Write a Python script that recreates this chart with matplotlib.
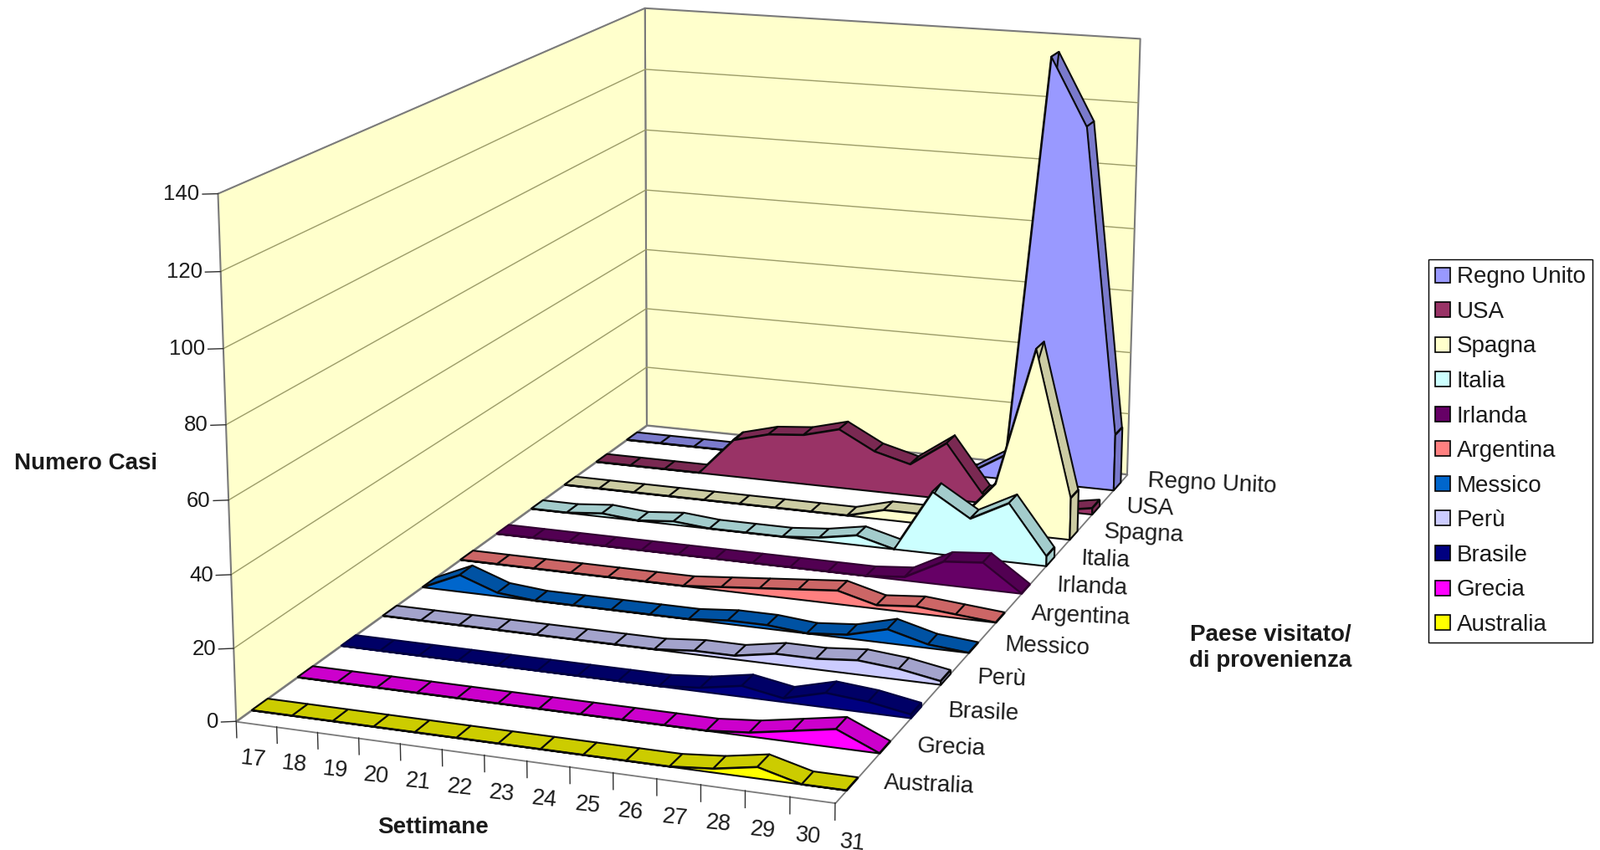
#!/usr/bin/env python3
# Grafico ad aree 3D: casi per settimana e paese visitato/di provenienza
import numpy as np
import matplotlib
matplotlib.use('Agg')
import matplotlib.pyplot as plt
from matplotlib.patches import Patch
from mpl_toolkits.mplot3d import proj3d
from mpl_toolkits.mplot3d.art3d import Poly3DCollection, Line3DCollection

plt.rcParams['font.family'] = ['Liberation Sans', 'DejaVu Sans']

settimane = list(range(17, 32))
paesi = ['Australia', 'Grecia', 'Brasile', 'Perù', 'Messico', 'Argentina',
         'Irlanda', 'Italia', 'Spagna', 'USA', 'Regno Unito']
z_ticks = [0, 20, 40, 60, 80, 100, 120, 140]

# valori (settimane 17-31)
australia = [0, 0, 0, 0, 0, 0, 0, 0, 0, 0, 0, 1, 3, 0, 0]
grecia = [0, 0, 0, 0, 0, 0, 0, 0, 0, 0, 0, 1, 3, 5, 0]
brasile = [0, 0, 0, 0, 0, 0, 0, 0, 0, 1, 3, 1, 4, 3, 1]
peru = [0, 0, 0, 0, 0, 0, 0, 0, 1, 1, 3, 3, 4, 3, 1]
messico = [0, 5, 1, 0, 0, 0, 0, 0, 1, 1, 0, 1, 4, 1, 0]
argentina = [0, 0, 0, 0, 0, 0, 0, 1, 2, 3, 4, 1, 2, 1, 0]
irlanda = [0, 0, 0, 0, 0, 0, 0, 0, 0, 0, 0, 1, 7, 8, 0]
italia = [0, 0, 1, 0, 1, 0, 0, 0, 1, 3, 0, 19, 12, 18, 3]
spagna = [0, 0, 0, 0, 0, 0, 0, 0, 0, 3, 3, 2, 15, 58, 13]
usa = [0, 0, 0, 0, 12, 15, 16, 19, 13, 10, 18, 3, 1, 0, 2]
regno_unito = [0, 0, 0, 0, 0, 0, 0, 0, 0, 0, 1, 8, 136, 115, 18]

serie = [australia, grecia, brasile, peru, messico, argentina, irlanda,
         italia, spagna, usa, regno_unito]
col_fronte = ['#FFFF00', '#FF00FF', '#000080', '#CCCCFF', '#0066CC', '#FF8080',
              '#660066', '#CCFFFF', '#FFFFCC', '#993366', '#9999FF']
col_sopra = ['#CCCC00', '#CC00CC', '#000066', '#A3A3CC', '#0052A3', '#CC6666',
             '#520052', '#A3CCCC', '#CCCCA3', '#7A2952', '#7A7ACC']
col_bordo = ['#0A0A0A', '#0A0A0A', '#000040', '#0A0A0A', '#0A0A0A', '#0A0A0A',
             '#300030', '#0A0A0A', '#0A0A0A', '#0A0A0A', '#0A0A0A']

fig = plt.figure(figsize=(19.12, 10.16), dpi=100)
h_ax = 1912 / 1016
ax = fig.add_axes([0, (1 - h_ax) / 2, 1, h_ax], projection='3d', computed_zorder=False)
ax.set_axis_off()

n_x = len(settimane) - 1
n_y = len(paesi)
z_max = z_ticks[-1]

# angoli della scatola nel riferimento (pixel) per ricavare la prospettiva
scala = 1912 / 1568
angoli_3d = [(0, 0, 0), (n_x, 0, 0), (0, n_y, 0), (n_x, n_y, 0),
             (0, 0, z_max), (0, n_y, z_max), (n_x, n_y, z_max)]
angoli_px = [(232, 707), (818.5, 787), (633, 417), (1105, 465),
             (213, 190), (633, 8), (1117, 38)]

righe = []
for (X, Y, Z), (u, v) in zip(angoli_3d, angoli_px):
    u, v = u * scala, 1016 - v * scala
    righe.append([X, Y, Z, 1, 0, 0, 0, 0, -u * X, -u * Y, -u * Z, -u])
    righe.append([0, 0, 0, 0, X, Y, Z, 1, -v * X, -v * Y, -v * Z, -v])
P = np.linalg.svd(np.array(righe, dtype=float))[2][-1].reshape(3, 4)
P = P / P[2, 3]

# da pixel a coordinate 2D dell'asse 3D
ax.apply_aspect()
inv = ax.transData.inverted()
o = inv.transform((0, 0))
ex = inv.transform((1, 0)) - o
ey = inv.transform((0, 1)) - o
M = np.array([
    ex[0] * P[0] + o[0] * P[2],
    ey[1] * P[1] + o[1] * P[2],
    [0, 1e-3, 0, 0],
    P[2],
])
ax.get_proj = lambda: M


def testo_3d(x, y, z, s, **kw):
    # testo normale posizionato con la proiezione dell'asse
    xp, yp, _ = proj3d.proj_transform(x, y, z, M)
    ax.text2D(xp, yp, s, transform=ax.transData, **kw)


# pareti e pavimento
bordo = '#7A7A7A'
griglia = '#9C9C68'
pareti = [
    [(0, 0, 0), (0, n_y, 0), (0, n_y, z_max), (0, 0, z_max)],
    [(0, n_y, 0), (n_x, n_y, 0), (n_x, n_y, z_max), (0, n_y, z_max)],
]
ax.add_collection3d(Poly3DCollection(pareti, facecolors='#FFFFCC', edgecolors=bordo,
                                     linewidths=1.5, zorder=1))
pavimento = [[(0, 0, 0), (n_x, 0, 0), (n_x, n_y, 0), (0, n_y, 0)]]
ax.add_collection3d(Poly3DCollection(pavimento, facecolors='white', edgecolors=bordo,
                                     linewidths=1.3, zorder=2))

segmenti = []
for t in z_ticks[1:-1]:
    segmenti.append([(0, 0, t), (0, n_y, t)])
    segmenti.append([(0, n_y, t), (n_x, n_y, t)])
ax.add_collection3d(Line3DCollection(segmenti, colors=griglia, linewidths=1.0, zorder=3))
z_ord = 4

# serie, dalla piu' lontana alla piu' vicina
for i in range(n_y - 1, -1, -1):
    val = serie[i]
    y0, y1 = i + 0.33, i + 0.67
    xs = list(range(n_x + 1))
    sopra = [[(k, y0, val[k]), (k + 1, y0, val[k + 1]),
              (k + 1, y1, val[k + 1]), (k, y1, val[k])] for k in range(n_x)]
    fronte = [[(0, y0, 0)] + [(k, y0, val[k]) for k in xs] + [(n_x, y0, 0)]]
    fine = [[(n_x, y0, 0), (n_x, y1, 0), (n_x, y1, val[-1]), (n_x, y0, val[-1])]]
    for verts, col in ((sopra, col_sopra[i]), (fronte, col_fronte[i]), (fine, col_sopra[i])):
        pc = Poly3DCollection(verts, facecolors=col, edgecolors=col_bordo[i], linewidths=1.5,
                              zorder=z_ord)
        ax.add_collection3d(pc)
        z_ord += 1

# tacche ed etichette
testo = '#1A1A1A'
fs = 20
dx, dy = 0.33, 0.074
for k, s in enumerate(settimane):
    ax.plot([k, k], [0, 0], [0, -4.5], color='#303030', lw=1.0, zorder=z_ord)
    testo_3d(k + 0.40, 0, -9.8, str(s), rotation=-6, fontsize=19.5, color=testo,
             ha='center', va='center', zorder=z_ord)
for j in range(n_y + 1):
    ax.plot([n_x, n_x + dx], [j, j + dy], [0, 0], color='#303030', lw=1.0, zorder=z_ord)
for j, nome in enumerate(paesi):
    testo_3d(n_x + 0.45, j + 0.85 + 0.035 * j, -3.2 - 0.1 * j, nome, rotation=-2.5, fontsize=fs,
             color=testo, ha='left', va='center', zorder=z_ord)
for t in z_ticks:
    ax.plot([0, -0.88 * dx], [0, -0.88 * dy], [t, t], color='#303030', lw=1.0, zorder=z_ord)
    testo_3d(-1.05 * dx, -1.05 * dy, t, str(t), fontsize=18.5, color=testo,
             ha='right', va='center', zorder=z_ord)

fig.text(84 * scala / 1912, 1 - 454 * scala / 1016, 'Numero Casi', fontsize=fs, weight='bold',
         color=testo, ha='center', va='center')
fig.text(424 * scala / 1912, 1 - 811 * scala / 1016, 'Settimane', fontsize=fs, weight='bold',
         color=testo, ha='center', va='center')
fig.text(1245 * scala / 1912, 1 - 635 * scala / 1016, 'Paese visitato/\ndi provenienza', fontsize=fs,
         weight='bold', color=testo, ha='center', va='center', linespacing=1.25)

maniglie = [Patch(facecolor=col_fronte[i], edgecolor='black', linewidth=1.2, label=paesi[i])
            for i in range(n_y - 1, -1, -1)]
fig.legend(handles=maniglie, loc='upper left', bbox_to_anchor=(1707 / 1912, 1 - 310 / 1016),
           borderaxespad=0, fontsize=fs, frameon=True, fancybox=False, edgecolor='black',
           framealpha=1, handlelength=0.62, handleheight=0.62, handletextpad=0.3,
           labelspacing=0.56, borderpad=0.3, labelcolor=testo)

fig.savefig('out.png', dpi=100)
